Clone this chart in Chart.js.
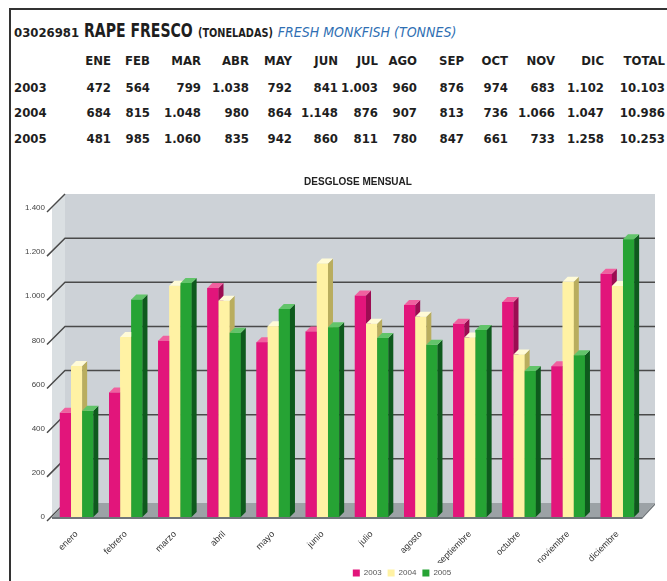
<!DOCTYPE html>
<html>
<head>
<meta charset="utf-8">
<script src="https://cdn.jsdelivr.net/npm/chart.js@4.4.1/dist/chart.umd.min.js"></script>
<style>
  html, body { margin: 0; padding: 0; background: #fff; }
  #page { position: relative; width: 667px; height: 581px; overflow: hidden; }
  #frame { position: absolute; left: 9px; top: 8px; width: 700px; height: 600px;
           border-left: 2px solid #333; border-top: 2px solid #333; }
  .t { position: absolute; white-space: nowrap; line-height: 16px;
       font-family: "Liberation Sans Narrow", "DejaVu Sans Condensed", "Liberation Sans", sans-serif;
       font-stretch: condensed; font-weight: bold; color: #1e1e1e; }
  #heading { left: 14px; top: 18px; line-height: 24px; }
  #heading .code { font-size: 13px; }
  #heading .name { font-size: 20px; display: inline-block; transform: scaleX(0.78);
                   transform-origin: left; margin-right: -31px; }
  #heading .unit { font-size: 12px; display: inline-block; transform: scaleX(0.9);
                   transform-origin: left; margin-right: -8px; }
  #heading .en { font-size: 14px; font-style: italic; font-weight: normal; color: #2f6fb3; }
  .cell { font-size: 13px; text-align: right; }
  #chart { position: absolute; left: 0; top: 0; }
</style>
</head>
<body>
<div id="page">
  <div id="frame"></div>
  <div id="heading" class="t">
    <span class="code">03026981</span>
    <span class="name">RAPE FRESCO</span>
    <span class="unit">(TONELADAS)</span>
    <span class="en">FRESH MONKFISH (TONNES)</span>
  </div>
  <div id="table"></div>
  <canvas id="chart" width="667" height="581"></canvas>
</div>
<script>
// ── Data ──
const monthCodes = ['ENE', 'FEB', 'MAR', 'ABR', 'MAY', 'JUN', 'JUL', 'AGO', 'SEP', 'OCT', 'NOV', 'DIC'];
const monthNames = ['enero', 'febrero', 'marzo', 'abril', 'mayo', 'junio', 'julio', 'agosto',
                    'septiembre', 'octubre', 'noviembre', 'diciembre'];
const years = ['2003', '2004', '2005'];
const values2003 = [472, 564, 799, 1038, 792, 841, 1003, 960, 876, 974, 683, 1102];
const values2004 = [684, 815, 1048, 980, 864, 1148, 876, 907, 813, 736, 1066, 1047];
const values2005 = [481, 985, 1060, 835, 942, 860, 811, 780, 847, 661, 733, 1258];
const totals = [10103, 10986, 10253];
const chartTitle = 'DESGLOSE MENSUAL';

// thousands with a dot, like the source table
const fmt = v => String(v).replace(/\B(?=(\d{3})+(?!\d))/g, '.');

// ── Table ──
const colRight = [111, 150, 201, 249, 292, 338, 378, 417, 464, 508, 555, 604, 665];
const rowMid = [61, 88, 113, 139];
const table = document.getElementById('table');

function cell(text, right, mid, left) {
  const s = document.createElement('span');
  s.className = 't cell';
  s.textContent = text;
  s.style.top = (mid - 8) + 'px';
  if (left != null) s.style.left = left + 'px';
  else s.style.right = (667 - right) + 'px';
  table.appendChild(s);
}

monthCodes.concat(['TOTAL']).forEach((m, i) => cell(m, colRight[i], rowMid[0]));
[values2003, values2004, values2005].forEach((row, r) => {
  cell(years[r], 0, rowMid[r + 1], 14);
  row.forEach((v, i) => cell(fmt(v), colRight[i], rowMid[r + 1]));
  cell(fmt(totals[r]), colRight[12], rowMid[r + 1]);
});

// ── Chart ──
const faces = [
  { front: '#e2157b', side: '#9c0c52', top: '#f0609f' },
  { front: '#fff2a4', side: '#b9ad5e', top: '#fffbd8' },
  { front: '#26a334', side: '#0e5a1d', top: '#62c46a' },
];
const WALL_DX = 13, WALL_DY = 14;
const BAR_DX = 5, BAR_DY = 5;

function poly(ctx, pts) {
  ctx.beginPath();
  ctx.moveTo(pts[0][0], pts[0][1]);
  pts.slice(1).forEach(p => ctx.lineTo(p[0], p[1]));
  ctx.closePath();
  ctx.fill();
}

const depth3d = {
  id: 'depth3d',
  afterLayout(chart) {
    // the source centres legend and title on the back wall
    chart.legend.left += 55; chart.legend.right += 55;
    chart.titleBlock.left += 11; chart.titleBlock.right += 11;
  },
  beforeDatasetsDraw(chart) {
    const { ctx, chartArea: a, scales: { y } } = chart;
    const top = y.getPixelForValue(y.max), zero = y.getPixelForValue(0);
    ctx.save();
    // side wall
    ctx.fillStyle = '#dadfe2';
    poly(ctx, [[a.left, top], [a.left + WALL_DX, top - WALL_DY], [a.left + WALL_DX, zero - WALL_DY], [a.left, zero]]);
    // back wall
    ctx.fillStyle = '#cdd2d7';
    ctx.fillRect(a.left + WALL_DX, top - WALL_DY, a.right - a.left, zero - top);
    // grid
    ctx.strokeStyle = '#4a4a4a';
    ctx.lineWidth = 1.5;
    y.ticks.forEach(t => {
      const py = y.getPixelForValue(t.value);
      ctx.beginPath();
      ctx.moveTo(a.left - 5, py + 4);
      ctx.lineTo(a.left + WALL_DX, py - WALL_DY);
      if (t.value > 0 && t.value < y.max) ctx.lineTo(a.right + WALL_DX, py - WALL_DY);
      ctx.stroke();
    });
    // floor
    ctx.fillStyle = '#9ca2a6';
    poly(ctx, [[a.left, zero], [a.left + WALL_DX, zero - WALL_DY], [a.right + WALL_DX, zero - WALL_DY], [a.right, zero]]);
    ctx.fillStyle = '#6f7579';
    poly(ctx, [[a.left, zero], [a.right, zero], [a.right + WALL_DX, zero - WALL_DY],
               [a.right + WALL_DX, zero - WALL_DY + 2], [a.right, zero + 2], [a.left, zero + 2]]);
    ctx.restore();
  },
  afterDatasetsDraw(chart) {
    const { ctx } = chart;
    ctx.save();
    chart.data.datasets.forEach((ds, di) => {
      const f = faces[di];
      chart.getDatasetMeta(di).data.forEach(bar => {
        const { x, y, base, width } = bar.getProps(['x', 'y', 'base', 'width'], true);
        const l = x - width / 2, r = x + width / 2;
        ctx.fillStyle = f.front;
        ctx.fillRect(l, y, width, base - y);
        ctx.fillStyle = f.side;
        poly(ctx, [[r, y], [r + BAR_DX, y - BAR_DY], [r + BAR_DX, base - BAR_DY], [r, base]]);
        ctx.fillStyle = f.top;
        poly(ctx, [[l, y], [l + BAR_DX, y - BAR_DY], [r + BAR_DX, y - BAR_DY], [r, y]]);
      });
    });
    ctx.restore();
  },
};

new Chart(document.getElementById('chart'), {
  type: 'bar',
  data: {
    labels: monthNames,
    datasets: [values2003, values2004, values2005].map((vals, i) => ({
      label: years[i],
      data: vals,
      backgroundColor: faces[i].front,
      borderColor: '#333',
      borderWidth: 0,
      categoryPercentage: 0.68,
      barPercentage: 1.0,
    })),
  },
  options: {
    responsive: false,
    animation: false,
    layout: { padding: { top: 176, right: 25, left: 0, bottom: -6 } },
    scales: {
      x: {
        grid: { display: false },
        border: { display: false },
        ticks: {
          color: '#333', font: { family: 'Liberation Sans', size: 9 },
          maxRotation: 45, minRotation: 45, padding: 4,
        },
        afterFit: s => { s.height = 46; },
      },
      y: {
        min: 0, max: 1400,
        grid: { display: false, drawTicks: false },
        border: { display: false },
        ticks: {
          stepSize: 200, padding: 7,
          color: '#444', font: { family: 'Liberation Sans', size: 8 },
          callback: v => fmt(v),
        },
        afterFit: s => { s.width = 52; },
      },
    },
    plugins: {
      title: {
        display: true, text: chartTitle, fullSize: false,
        color: '#222', font: { family: 'Liberation Sans', size: 10, weight: 'bold' },
        padding: { top: 0, bottom: 20 },
      },
      legend: {
        position: 'bottom', fullSize: false,
        labels: {
          boxWidth: 7, boxHeight: 7, padding: 6,
          color: '#555', font: { family: 'Liberation Sans', size: 8 },
        },
      },
      tooltip: { enabled: false },
    },
  },
  plugins: [depth3d],
});
</script>
</body>
</html>
